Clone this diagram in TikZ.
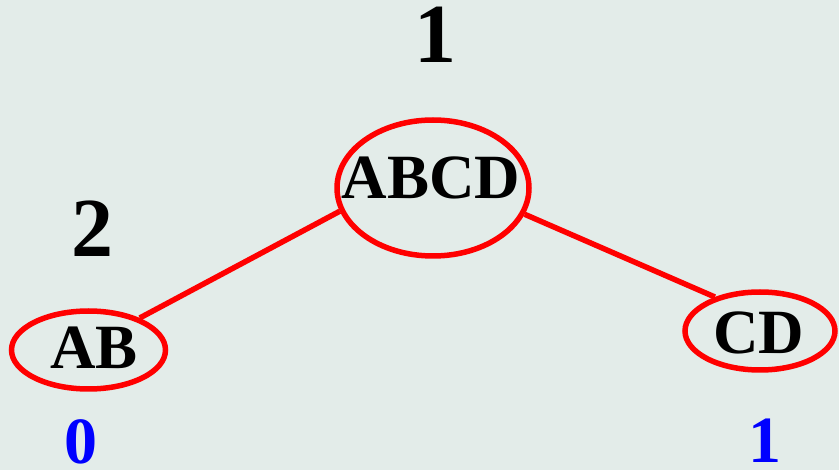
\documentclass[tikz,border=0pt]{standalone}
\usepackage{fontspec}
\setmainfont{Liberation Serif}
\usetikzlibrary{shapes.geometric}
\definecolor{bg}{HTML}{E3ECE9}
\definecolor{redline}{HTML}{FF0000}
\definecolor{numblue}{HTML}{0000FF}
\tikzset{
  oval/.style={ellipse, draw=redline, line width=5.5pt, inner sep=0pt},
  ovaltext/.style={font=\fontsize{63}{63}\selectfont\bfseries, text=black, inner sep=0pt},
  level/.style={font=\fontsize{84}{84}\selectfont\bfseries, text=black, inner sep=0pt},
  code/.style={font=\fontsize{66}{66}\selectfont\bfseries, text=numblue, inner sep=0pt},
  edge/.style={draw=redline, line width=5.5pt}
}
\begin{document}
\begin{tikzpicture}[x=1pt, y=-1pt]
\fill[bg] (0,0) rectangle (839,470);
\useasboundingbox (0,0) rectangle (839,470);
\node[oval, minimum width=192pt, minimum height=136pt] (abcd) at (433,188) {};
\node[oval, minimum width=154pt, minimum height=78pt] (ab) at (88.5,350) {};
\node[oval, minimum width=150pt, minimum height=78pt] (cd) at (760,331) {};
\node[ovaltext] (tabcd) at (431,178) {ABCD};
\node[ovaltext] (tab) at (94,348) {AB};
\node[ovaltext] (tcd) at (759,333) {CD};
\draw[edge] (abcd.194) -- (ab.32);
\draw[edge] (abcd.344) -- (cd.143);
\node[level] (l1) at (435,35) {1};
\node[level] (l2) at (92,229) {2};
\node[code] (c0) at (81,442) {0};
\node[code] (c1) at (765,441) {1};
\end{tikzpicture}
\end{document}
